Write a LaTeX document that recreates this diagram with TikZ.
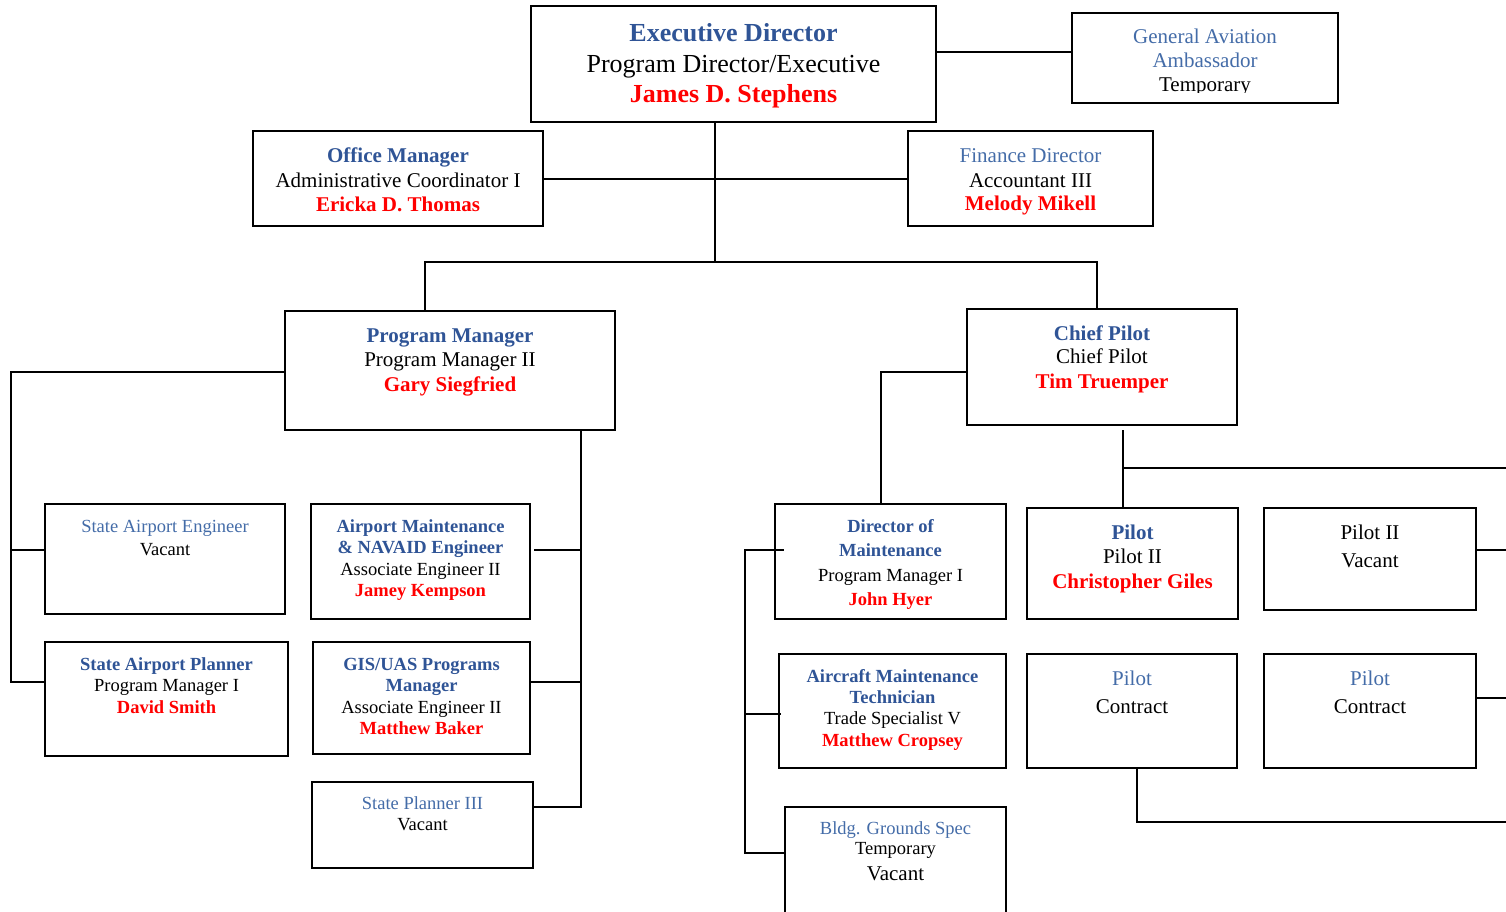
\documentclass[tikz,border=0pt]{standalone}
\usepackage{fontspec}
\setmainfont{Liberation Serif}
\definecolor{tblue}{RGB}{47,84,150}
\definecolor{lblue}{RGB}{68,108,168}
\definecolor{nred}{RGB}{255,0,0}
\tikzset{
  bx/.style={draw=black, line width=2.2pt, rectangle, inner sep=0pt},
  cn/.style={draw=black, line width=2pt},
  txtnode/.style={anchor=base, inner sep=0pt},
  hb/.style={txtnode, font=\fontsize{#1}{#1}\selectfont\bfseries, text=tblue},
  hr/.style={txtnode, font=\fontsize{#1}{#1}\selectfont, text=lblue},
  bk/.style={txtnode, font=\fontsize{#1}{#1}\selectfont, text=black},
  rd/.style={txtnode, font=\fontsize{#1}{#1}\selectfont\bfseries, text=nred},
}
\newcommand\tx[4]{\node[#4] (#1) at (#2 |- 0,#3)}
\begin{document}
\begin{tikzpicture}[x=1pt,y=-1pt]
\useasboundingbox (0,0) rectangle (1506,911);
\clip (0,0) rectangle (1506,911);

% ---------- boxes ----------
\node[bx, minimum width=405pt, minimum height=116pt] (exec)    at (733.5,64) {};
\node[bx, minimum width=266pt, minimum height=90pt]  (ga)      at (1205,58) {};
\node[bx, minimum width=290pt, minimum height=95pt]  (office)  at (398,178.5) {};
\node[bx, minimum width=245pt, minimum height=95pt]  (finance) at (1030.5,178.5) {};
\node[bx, minimum width=330pt, minimum height=119pt] (pm)      at (450,370.5) {};
\node[bx, minimum width=270pt, minimum height=116pt] (cp)      at (1102,367) {};
\node[bx, minimum width=240pt, minimum height=110pt] (sae)     at (165,559) {};
\node[bx, minimum width=219pt, minimum height=115pt] (amne)    at (420.5,561.5) {};
\node[bx, minimum width=243pt, minimum height=114pt] (sap)     at (166.5,699) {};
\node[bx, minimum width=217pt, minimum height=112pt] (gis)     at (421.5,698) {};
\node[bx, minimum width=221pt, minimum height=86pt]  (sp3)     at (422.5,825) {};
\node[bx, minimum width=231pt, minimum height=115pt] (dom)     at (890.5,561.5) {};
\node[bx, minimum width=211pt, minimum height=111pt] (pilot)   at (1132.5,563.5) {};
\node[bx, minimum width=212pt, minimum height=102pt] (p2v)     at (1370,559) {};
\node[bx, minimum width=227pt, minimum height=114pt] (amt)     at (892.5,711) {};
\node[bx, minimum width=210pt, minimum height=114pt] (pc1)     at (1132,711) {};
\node[bx, minimum width=212pt, minimum height=114pt] (pc2)     at (1370,711) {};
\node[bx, minimum width=221pt, minimum height=133pt] (bldg)    at (895.5,873.5) {};

% ---------- joints ----------
\coordinate (hub)   at (715,262);
\coordinate (pmtop) at (425,262);
\coordinate (cptop) at (1097,262);
\coordinate (l1) at (11,372);
\coordinate (l2) at (11,550);
\coordinate (l3) at (11,682);
\coordinate (r1) at (581,550);
\coordinate (r2) at (581,682);
\coordinate (r3) at (581,807);
\coordinate (c1) at (881,372);
\coordinate (c2) at (1123,430);
\coordinate (c3) at (1123,468);
\coordinate (c4) at (1510,468);
\coordinate (d1) at (745,550);
\coordinate (d2) at (745,714);
\coordinate (d3) at (745,853);
\coordinate (e1) at (1510,550);
\coordinate (e2) at (1510,698);
\coordinate (f1) at (1137,822);
\coordinate (f2) at (1510,822);

% ---------- connectors ----------
\draw[cn] (exec.east |- 0,52) -- (ga.west |- 0,52);
\draw[cn] (office.east) -- (finance.west);
\draw[cn] (exec.south -| hub) -- (hub);
\draw[cn] (pm.north -| pmtop) -- (pmtop) -- (cptop) -- (cp.north -| cptop);
\draw[cn] (pm.west |- l1) -- (l1) -- (l3) -- (sap.west |- l3);
\draw[cn] (l2) -- (sae.west |- l2);
\draw[cn] (pm.south -| r3) -- (r3) -- (sp3.east |- r3);
\draw[cn] (r1) -- ([xshift=3pt]amne.east |- r1);
\draw[cn] (r2) -- (gis.east |- r2);
\draw[cn] (cp.west |- c1) -- (c1) -- (dom.north -| c1);
\draw[cn] (c2) -- (pilot.north -| c2);
\draw[cn] (c3) -- (c4);
\draw[cn] ([xshift=10pt]dom.west |- d1) -- (d1) -- (d3) -- (bldg.west |- d3);
\draw[cn] (d2) -- ([xshift=3pt]amt.west |- d2);
\draw[cn] (p2v.east |- e1) -- (e1);
\draw[cn] (pc2.east |- e2) -- (e2);
\draw[cn] (pc1.south -| f1) -- (f1) -- (f2);

% ---------- texts ----------
\tx{exA}{exec}{41}{hb=26}{Executive Director};
\tx{exB}{exec}{72}{bk=26}{Program Director/Executive};
\tx{exC}{exec}{102}{rd=26}{James D. Stephens};

\tx{gaA}{ga}{43}{hr=21}{General Aviation};
\tx{gaB}{ga}{67}{hr=21}{Ambassador};
\begin{scope}
\clip (1074,14) rectangle (1336,92.5);
\tx{gaC}{ga}{91}{bk=21}{Temporary};
\end{scope}

\tx{ofA}{office}{162}{hb=21}{Office Manager};
\tx{ofB}{office}{187}{bk=21}{Administrative Coordinator I};
\tx{ofC}{office}{211}{rd=21}{Ericka D. Thomas};

\tx{fiA}{finance}{162}{hr=21}{Finance Director};
\tx{fiB}{finance}{187}{bk=21}{Accountant III};
\tx{fiC}{finance}{210}{rd=21}{Melody Mikell};

\tx{pmA}{pm}{342}{hb=21}{Program Manager};
\tx{pmB}{pm}{366}{bk=21}{Program Manager II};
\tx{pmC}{pm}{391}{rd=21}{Gary Siegfried};

\tx{cpA}{cp}{340}{hb=21}{Chief Pilot};
\tx{cpB}{cp}{363}{bk=21}{Chief Pilot};
\tx{cpC}{cp}{388}{rd=21}{Tim Truemper};

\tx{saeA}{sae}{532}{hr=18.5}{State Airport Engineer};
\tx{saeB}{sae}{555}{bk=18.5}{Vacant};

\tx{amA}{amne}{532}{hb=18.5}{Airport Maintenance};
\tx{amB}{amne}{553}{hb=18.5}{\& NAVAID Engineer};
\tx{amC}{amne}{575}{bk=18.5}{Associate Engineer II};
\tx{amD}{amne}{596}{rd=18.5}{Jamey Kempson};

\tx{sapA}{sap}{670}{hb=18.5}{State Airport Planner};
\tx{sapB}{sap}{691}{bk=18.5}{Program Manager I};
\tx{sapC}{sap}{713}{rd=18.5}{David Smith};

\tx{gisA}{gis}{670}{hb=18.5}{GIS/UAS Programs};
\tx{gisB}{gis}{691}{hb=18.5}{Manager};
\tx{gisC}{gis}{713}{bk=18.5}{Associate Engineer II};
\tx{gisD}{gis}{734}{rd=18.5}{Matthew Baker};

\tx{spA}{sp3}{809}{hr=18.5}{State Planner III};
\tx{spB}{sp3}{830}{bk=18.5}{Vacant};

\tx{domA}{dom}{532}{hb=18.5}{Director of};
\tx{domB}{dom}{556}{hb=18.5}{Maintenance};
\tx{domC}{dom}{581}{bk=18.5}{Program Manager I};
\tx{domD}{dom}{605}{rd=18.5}{John Hyer};

\tx{piA}{pilot}{539}{hb=21}{Pilot};
\tx{piB}{pilot}{563}{bk=21}{Pilot II};
\tx{piC}{pilot}{588}{rd=21}{Christopher Giles};

\tx{pvA}{p2v}{539}{bk=21}{Pilot II};
\tx{pvB}{p2v}{567}{bk=21}{Vacant};

\tx{amtA}{amt}{682}{hb=18.5}{Aircraft Maintenance};
\tx{amtB}{amt}{703}{hb=18.5}{Technician};
\tx{amtC}{amt}{724}{bk=18.5}{Trade Specialist V};
\tx{amtD}{amt}{746}{rd=18.5}{Matthew Cropsey};

\tx{pcaA}{pc1}{685}{hr=21}{Pilot};
\tx{pcaB}{pc1}{713}{bk=21}{Contract};

\tx{pcbA}{pc2}{685}{hr=21}{Pilot};
\tx{pcbB}{pc2}{713}{bk=21}{Contract};

\tx{bgA}{bldg}{834}{hr=18.5}{Bldg. Grounds Spec};
\tx{bgB}{bldg}{854}{bk=18.5}{Temporary};
\tx{bgC}{bldg}{880}{bk=21}{Vacant};
\end{tikzpicture}
\end{document}
